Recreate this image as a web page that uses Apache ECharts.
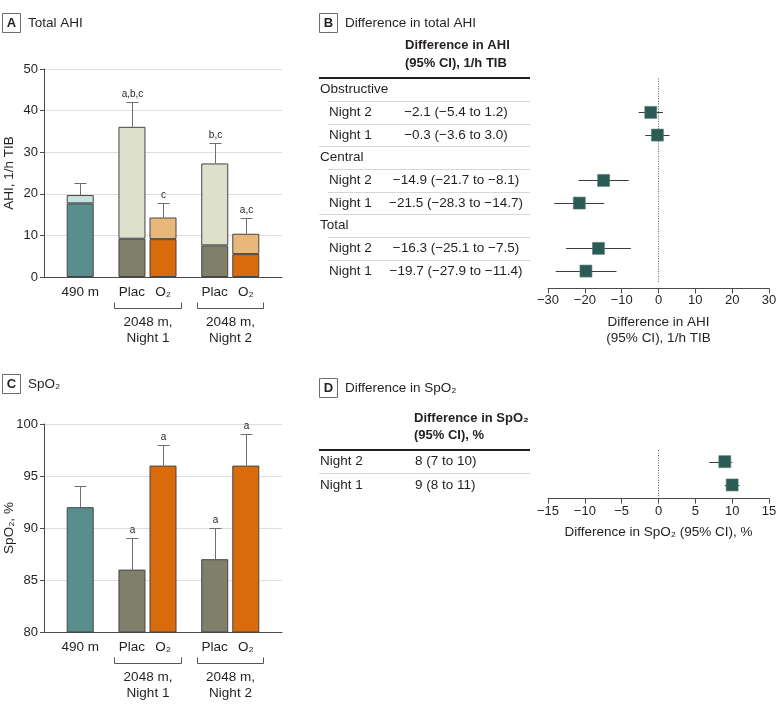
<!DOCTYPE html>
<html><head><meta charset="utf-8">
<script src="https://cdn.jsdelivr.net/npm/echarts@6/dist/echarts.min.js"></script>
<style>html,body{margin:0;padding:0;background:#fff}#c{width:783px;height:715px}</style>
</head><body><div id="c"></div>
<script>
// ---------- DATA ----------
const barLabels = ['490 m', 'Plac', 'O₂', 'Plac', 'O₂'];
const nightGroupLabels = ['2048 m,\nNight 1', '2048 m,\nNight 2'];
const ahiLower = [17.7, 9.2, 9.1, 7.6, 5.5];
const ahiTotal = [19.7, 36.1, 14.3, 27.3, 10.4];
const ahiErrTop = [22.6, 42.0, 17.8, 32.1, 14.1];
const ahiNotes = ['', 'a,b,c', 'c', 'b,c', 'a,c'];
const ahiTicks = [0, 10, 20, 30, 40, 50];
const spo2Mean = [92, 86, 96, 87, 96];
const spo2ErrTop = [94, 89, 98, 90, 99];
const spo2Notes = ['', 'a', 'a', 'a', 'a'];
const spo2Ticks = [80, 85, 90, 95, 100];
const yTitles = ['AHI, 1/h TIB', 'SpO₂, %'];

const ahiTypes = ['Obstructive', 'Central', 'Total'];
const nightRows = ['Night 2', 'Night 1'];
const ahiDiffEst = [-2.1, -0.3, -14.9, -21.5, -16.3, -19.7];
const ahiDiffLo = [-5.4, -3.6, -21.7, -28.3, -25.1, -27.9];
const ahiDiffHi = [1.2, 3.0, -8.1, -14.7, -7.5, -11.4];
const ahiDiffText = ['−2.1 (−5.4 to 1.2)', '−0.3 (−3.6 to 3.0)', '−14.9 (−21.7 to −8.1)', '−21.5 (−28.3 to −14.7)', '−16.3 (−25.1 to −7.5)', '−19.7 (−27.9 to −11.4)'];
const ahiDiffTicks = [-30, -20, -10, 0, 10, 20, 30];

const spo2DiffEst = [9.0, 10.0];
const spo2DiffLo = [6.9, 9.0];
const spo2DiffHi = [10.0, 11.0];
const spo2DiffText = ['8 (7 to 10)', '9 (8 to 11)'];
const spo2DiffTicks = [-15, -10, -5, 0, 5, 10, 15];

// ---------- STYLE / LAYOUT ----------
const FONT = "'Liberation Sans', Arial, sans-serif";
const FS = 13, TFS = 13.5, NFS = 10;
const TXT = '#231f20', AX = '#4a4a4a', ERR = '#6e6e6e', SQ = '#2c5a55';
const darkColors = ['#588e8c', '#807f6a', '#da6b0c', '#807f6a', '#da6b0c'];
const lightColors = ['#c5e3e2', '#dde0cb', '#e8b87a', '#dde0cb', '#e8b87a'];
const SLOTS = 23, barSlots = [3, 8, 11, 16, 19], pairs = [[8, 11], [16, 19]];
const BAR_W = 27;
const slotCats = Array.from({length: SLOTS}, (_, i) => { const k = barSlots.indexOf(i); return k >= 0 ? barLabels[k] : ''; });

function slotData(vals, colors) {
  const d = Array(SLOTS).fill('-');
  barSlots.forEach((s, k) => { d[s] = {value: vals[k], itemStyle: {color: colors[k]}}; });
  return d;
}
function errBars(xi, yi, base, tops, notes) {
  return {
    type: 'custom', xAxisIndex: xi, yAxisIndex: yi, z: 5, silent: true,
    data: barSlots.map((s, k) => [s, base[k], tops[k]]),
    renderItem: (params, api) => {
      const p1 = api.coord([api.value(0), api.value(1)]);
      const p2 = api.coord([api.value(0), api.value(2)]);
      const x = Math.round(p1[0]) + 0.5, yt = Math.round(p2[1]) + 0.5;
      const ch = [
        {type: 'line', shape: {x1: x, y1: p1[1], x2: x, y2: yt}, style: {stroke: ERR, lineWidth: 1}},
        {type: 'line', shape: {x1: x - 6, y1: yt, x2: x + 6, y2: yt}, style: {stroke: ERR, lineWidth: 1}}
      ];
      const note = notes[params.dataIndex];
      if (note) ch.push({type: 'text', x: x, y: yt - 3, style: {text: note, font: `${NFS}px ${FONT}`, fill: TXT, align: 'center', verticalAlign: 'bottom', textAlign: 'center', textVerticalAlign: 'bottom'}});
      return {type: 'group', children: ch};
    }
  };
}
// forest rows
const ahiRows = [];
ahiTypes.forEach((t, ti) => { ahiRows.push({header: true, label: t}); nightRows.forEach((n, ni) => ahiRows.push({header: false, label: n, k: ti * 2 + ni})); });
const ahiRowIdx = []; ahiRows.forEach((r, i) => { if (!r.header) ahiRowIdx[r.k] = i; });
const spo2Rows = nightRows.map((n, i) => ({header: false, label: n, k: i}));

function forest(xi, yi, est, lo, hi, rowIdx) {
  return [{
    type: 'custom', xAxisIndex: xi, yAxisIndex: yi, silent: true, z: 3,
    data: rowIdx.map((r, k) => [lo[k], hi[k], r]),
    encode: {x: [0, 1], y: 2},
    renderItem: (params, api) => {
      const a = api.coord([api.value(0), api.value(2)]), b = api.coord([api.value(1), api.value(2)]);
      const y = Math.round(a[1]) + 0.5;
      return {type: 'line', shape: {x1: a[0], y1: y, x2: b[0], y2: y}, style: {stroke: '#3c3c3c', lineWidth: 1}};
    }
  }, {
    type: 'scatter', xAxisIndex: xi, yAxisIndex: yi, z: 4, silent: true, symbol: 'rect', symbolSize: 12,
    data: rowIdx.map((r, k) => [est[k], r]),
    itemStyle: {color: SQ, borderColor: '#557f7a', borderWidth: 0.6, opacity: 1},
    markLine: {silent: true, symbol: 'none', animation: false, label: {show: false},
      lineStyle: {type: [1, 1.5], color: '#5e5e5e', width: 1}, data: [{xAxis: 0}]}
  }];
}
const fmtMinus = v => String(v).replace('-', '−');
function barX(gi) {
  return {gridIndex: gi, type: 'category', data: slotCats,
    axisLine: {show: true, lineStyle: {color: AX}}, axisTick: {show: false},
    axisLabel: {interval: 0, fontSize: TFS, color: TXT, margin: 8, fontFamily: FONT}, splitLine: {show: false}};
}
function barY(gi, ticks) {
  return {gridIndex: gi, type: 'value', min: ticks[0], max: ticks[ticks.length - 1], interval: ticks[1] - ticks[0],
    axisLine: {show: true, lineStyle: {color: AX}}, axisTick: {show: true, length: 4, lineStyle: {color: AX}},
    axisLabel: {fontSize: FS, color: TXT, margin: 6, fontFamily: FONT},
    splitLine: {show: true, lineStyle: {color: '#dedede', width: 1}}};
}
function forestX(gi, ticks, name, offset) {
  return {gridIndex: gi, type: 'value', min: ticks[0], max: ticks[ticks.length - 1], interval: ticks[1] - ticks[0], offset: offset,
    name: name, nameLocation: 'middle', nameGap: 26, nameTextStyle: {fontSize: TFS, lineHeight: 16, color: TXT, fontFamily: FONT},
    axisLine: {show: true, lineStyle: {color: AX}}, axisTick: {show: true, length: 5, lineStyle: {color: AX}},
    axisLabel: {fontSize: FS, color: TXT, margin: 6, fontFamily: FONT, formatter: fmtMinus}, splitLine: {show: false}};
}

const chart = echarts.init(document.getElementById('c'), null, {renderer: 'canvas', width: 783, height: 715});
chart.setOption({
  animation: false,
  textStyle: {fontFamily: FONT},
  grid: [
    {left: 44, top: 69, width: 238, height: 208, outerBoundsMode: 'none', containLabel: false},
    {left: 44, top: 424, width: 238, height: 208, outerBoundsMode: 'none', containLabel: false},
    {left: 548, top: 78.4, width: 221, height: 204, outerBoundsMode: 'none', containLabel: false},
    {left: 548, top: 450, width: 221, height: 46.6, outerBoundsMode: 'none', containLabel: false}
  ],
  xAxis: [barX(0), barX(1),
    forestX(2, ahiDiffTicks, 'Difference in AHI\n(95% CI), 1/h TIB', 6),
    forestX(3, spo2DiffTicks, 'Difference in SpO₂ (95% CI), %', 2)],
  yAxis: [barY(0, ahiTicks), barY(1, spo2Ticks),
    {gridIndex: 2, type: 'category', inverse: true, show: false, data: ahiRows.map((r, i) => i)},
    {gridIndex: 3, type: 'category', inverse: true, show: false, data: spo2Rows.map((r, i) => i)}],
  series: [
    {type: 'bar', xAxisIndex: 0, yAxisIndex: 0, stack: 'ahi', barWidth: BAR_W, silent: true,
      itemStyle: {borderColor: '#454545', borderWidth: 1}, data: slotData(ahiLower, darkColors)},
    {type: 'bar', xAxisIndex: 0, yAxisIndex: 0, stack: 'ahi', barWidth: BAR_W, silent: true,
      itemStyle: {borderColor: '#454545', borderWidth: 1}, data: slotData(ahiTotal.map((t, k) => +(t - ahiLower[k]).toFixed(2)), lightColors)},
    errBars(0, 0, ahiTotal, ahiErrTop, ahiNotes),
    {type: 'bar', xAxisIndex: 1, yAxisIndex: 1, barWidth: BAR_W, silent: true,
      itemStyle: {borderColor: '#454545', borderWidth: 1}, data: slotData(spo2Mean, darkColors)},
    errBars(1, 1, spo2Mean, spo2ErrTop, spo2Notes),
    ...forest(2, 2, ahiDiffEst, ahiDiffLo, ahiDiffHi, ahiRowIdx),
    ...forest(3, 3, spo2DiffEst, spo2DiffLo, spo2DiffHi, spo2Rows.map((r, i) => i))
  ]
});

// ---------- annotations (graphics positioned via chart scales) ----------
const G = [];
function txt(x, y, s, o = {}) {
  G.push({type: 'text', x: x, y: y, rotation: o.rot || 0, silent: true, style: {text: s, font: `${o.bold ? 'bold ' : ''}${o.size || TFS}px ${FONT}`,
    fill: TXT, align: o.align || 'left', textAlign: o.align || 'left', verticalAlign: 'middle', textVerticalAlign: 'middle', lineHeight: o.lh || 16}});
}
function line(x1, y1, x2, y2, color, w) {
  G.push({type: 'line', silent: true, shape: {x1, y1, x2, y2}, style: {stroke: color, lineWidth: w}});
}
function panelLabel(x, y, letter, title) {
  G.push({type: 'rect', silent: true, shape: {x: x + 0.5, y: y + 0.5, width: 18, height: 19}, style: {fill: '#fff', stroke: '#6d6d6d', lineWidth: 1}});
  txt(x + 9.5, y + 10.5, letter, {bold: true, align: 'center', size: 13});
  txt(x + 26, y + 10.5, title);
}
panelLabel(2, 13, 'A', 'Total AHI');
panelLabel(319, 13, 'B', 'Difference in total AHI');
panelLabel(2, 374, 'C', 'SpO₂');
panelLabel(319, 378, 'D', 'Difference in SpO₂');

// y-axis titles, brackets + group labels under bar panels
[0, 1].forEach(gi => {
  const ticks = gi === 0 ? ahiTicks : spo2Ticks;
  const axisY = chart.convertToPixel({yAxisIndex: gi}, ticks[0]);
  const midY = chart.convertToPixel({yAxisIndex: gi}, (ticks[0] + ticks[ticks.length - 1]) / 2);
  txt(9, midY, yTitles[gi], {align: 'center', rot: Math.PI / 2});
  pairs.forEach((p, pi) => {
    const xl = Math.round(chart.convertToPixel({xAxisIndex: gi}, p[0]) - BAR_W / 2 - 4) + 0.5;
    const xr = Math.round(chart.convertToPixel({xAxisIndex: gi}, p[1]) + BAR_W / 2 + 4) + 0.5;
    const yb = Math.round(axisY + 31) + 0.5;
    G.push({type: 'polyline', silent: true, shape: {points: [[xl, yb - 6], [xl, yb], [xr, yb], [xr, yb - 6]]}, style: {stroke: '#555', lineWidth: 1, fill: null}});
    txt((xl + xr) / 2, axisY + 53, nightGroupLabels[pi], {align: 'center'});
  });
});

// table for panel B
const TL = 319, TR = 530;
const rowY = (yi, i) => chart.convertToPixel({yAxisIndex: yi}, i);
{
  const y0 = rowY(2, 0), y1 = rowY(2, 1), h = y1 - y0;
  const top = Math.round(y0 - h / 2);
  line(TL, top, TR, top, '#1e1e1e', 2);
  txt(405, top - 33, 'Difference in AHI', {bold: true, size: 13});
  txt(405, top - 15, '(95% CI), 1/h TIB', {bold: true, size: 13});
  ahiRows.forEach((r, i) => {
    const y = rowY(2, i);
    if (r.header) txt(320, y, r.label);
    else { txt(329, y, r.label); txt(456, y, ahiDiffText[r.k], {align: 'center'}); }
    if (i < ahiRows.length - 1) {
      const yb = Math.round((y + rowY(2, i + 1)) / 2) + 0.5;
      line(ahiRows[i + 1].header ? TL : 328, yb, TR, yb, '#d6d6d6', 1);
    }
  });
}
// table for panel D
{
  const y0 = rowY(3, 0), y1 = rowY(3, 1), h = y1 - y0;
  const top = Math.round(y0 - h / 2);
  line(TL, top, TR, top, '#1e1e1e', 2);
  txt(414, top - 32, 'Difference in SpO₂', {bold: true, size: 13});
  txt(414, top - 15, '(95% CI), %', {bold: true, size: 13});
  spo2Rows.forEach((r, i) => {
    const y = rowY(3, i);
    txt(320, y, r.label); txt(415, y, spo2DiffText[r.k]);
    if (i < spo2Rows.length - 1) {
      const yb = Math.round((y + rowY(3, i + 1)) / 2) + 0.5;
      line(TL, yb, TR, yb, '#d6d6d6', 1);
    }
  });
}
chart.setOption({graphic: {elements: G}});
</script>
</body></html>
